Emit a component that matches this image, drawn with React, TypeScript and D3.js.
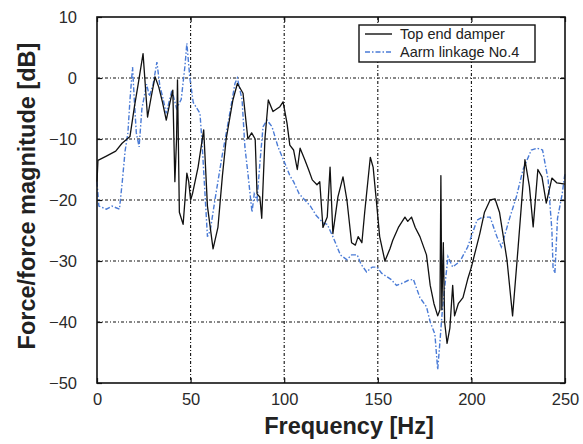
import React, { useEffect, useRef } from 'react';
import * as d3 from 'd3';

// [frequency Hz, dB]
const topEndDamper: [number, number][] = [
  [0, -17], [0.5, -13.5], [5, -12.8], [10, -12], [13.4, -10.7], [17.6, -9.6], [20, -4.7], [22, -1],
  [24.6, 4], [27, -6.4], [29, -3], [31, 0.2], [33, -1.5], [35, -4], [37, -6.9], [39, -4], [40.5, -2],
  [41.6, -17], [42.5, -10], [43, -0.3], [44, -22], [46, -24], [47, -20], [48, -15.6], [49, -17],
  [50, -20], [51, -19], [54, -14.6], [57, -8.5], [59, -21], [62, -28], [64.6, -24.5], [67, -16],
  [69, -10], [72.6, -3.6], [75, -0.9], [78, -2.5], [80.6, -10], [82.6, -9], [84.5, -10], [85.5, -19],
  [87, -19.5], [88, -23], [89.7, -10], [91.5, -3.6], [94, -5.5], [97.7, -4.7], [99.4, -3.9],
  [101.5, -7.4], [103, -11], [105, -11.8], [107, -15], [108.5, -11.5], [111, -13.4], [113, -15],
  [115, -16.7], [117.5, -17.5], [119, -17], [120.7, -24.5], [123, -22.8], [124.5, -14.6], [126, -25.5],
  [128.7, -19.5], [131.4, -16.2], [133.5, -20], [136, -27], [138, -27.4], [139.5, -26], [141.5, -27],
  [143, -22], [146, -13], [147.5, -14.6], [149.5, -21], [151, -26], [153.8, -30], [156.5, -28],
  [158, -26.6], [161, -24.5], [164.5, -22.8], [166, -23.5], [168, -22.8], [170, -24.5], [172.5, -26],
  [176, -29], [178, -34], [180, -37], [182, -39], [183.2, -38], [183.7, -16], [184.2, -38], [185, -27],
  [185.7, -40], [187, -43.5], [188.5, -41], [190, -34], [191, -39], [193, -37], [195.5, -36], [198, -33],
  [200, -31], [204.5, -25.5], [207, -22], [210, -20], [212.6, -19.8], [215, -22], [219, -29.8],
  [222, -39], [225, -27.6], [228.6, -13.4], [231, -17.8], [233, -24.4], [235.5, -15], [237.7, -16.2],
  [240, -20.5], [243, -16.4], [245.7, -17.2], [250, -17.4],
];

const aarmLinkage: [number, number][] = [
  [0, -17], [1, -21], [5, -21.5], [8, -21], [12, -21.5], [13.5, -17], [15, -12], [16.5, -9],
  [17.6, -3.6], [19, 1.8], [20, -4], [21, -9], [22.5, -11.3], [24, -5], [26.5, -1], [28, -3], [30, -1],
  [32, 2.6], [33.6, -1.4], [35, -3], [37, -5.8], [40, -2], [42.5, -5], [45, -3.5], [47, 2], [48, 5.7],
  [49.6, 0], [51.4, -4], [55, -5.8], [56, -10], [57.5, -18], [59, -26], [60.5, -25], [63, -20],
  [66.7, -13], [70, -7.4], [73.7, -0.9], [75, 0], [77.5, -3.6], [79, -11.3], [80.6, -15.6], [82.8, -22],
  [84, -19], [85.5, -20], [87, -14], [88.7, -8], [90.8, -6.9], [93.5, -8], [96.7, -11.3], [100.4, -14],
  [103, -16], [105, -17], [108, -19], [111, -20], [114, -21], [117, -22.5], [121, -23.8], [123, -24],
  [126, -26], [128, -27.5], [130, -29], [133.5, -29.8], [136, -29], [139, -29], [141, -30.5],
  [144, -31.8], [147, -31], [149.6, -31], [152, -32], [155, -32.6], [157, -33], [160, -34],
  [163.5, -33.6], [166, -33.2], [169, -33], [172.5, -36], [176, -37.5], [178, -40], [180.5, -42],
  [182, -47.8], [183, -44], [184.5, -38], [186, -33.6], [187.5, -29.3], [190, -31], [194, -30],
  [198, -27.7], [203, -23.3], [206, -22.8], [210, -22.8], [213.6, -26], [216, -27.7], [220.6, -22.8],
  [224, -19.5], [227.6, -15], [232, -11.8], [235, -11.5], [238, -11.8], [241, -16.7], [243, -25],
  [243.6, -31], [244.6, -32], [246, -23], [248.5, -19], [250, -15.6],
];

const xTicks = [0, 50, 100, 150, 200, 250];
const yTicks = [10, 0, -10, -20, -30, -40, -50];
const seriesNames = ['Top end damper', 'Aarm linkage No.4'];

const BLUE = '#4a7bd6';
const FONT = 'Liberation Sans, Arial, Helvetica, sans-serif';

const App = () => {
  const svgRef = useRef<SVGSVGElement>(null);
  const width = 583;
  const height = 444;

  useEffect(() => {
    const svg = d3.select(svgRef.current);
    svg.selectAll('*').remove();

    const margin = { top: 17, right: 18, bottom: 61, left: 97 };
    const innerWidth = width - margin.left - margin.right;
    const innerHeight = height - margin.top - margin.bottom;

    svg.append('rect').attr('width', width).attr('height', height).attr('fill', '#fff');

    const g = svg.append('g').attr('transform', `translate(${margin.left},${margin.top})`);

    const x = d3.scaleLinear().domain([0, 250]).range([0, innerWidth]);
    const y = d3.scaleLinear().domain([-50, 10]).range([innerHeight, 0]);

    // grid
    g.selectAll('.vgrid')
      .data(xTicks.slice(1, -1))
      .enter()
      .append('line')
      .attr('x1', d => x(d)).attr('x2', d => x(d))
      .attr('y1', 0).attr('y2', innerHeight)
      .attr('stroke', '#111').attr('stroke-width', 1.1)
      .attr('stroke-dasharray', '3,2,1,2');
    g.selectAll('.hgrid')
      .data(yTicks.slice(1, -1))
      .enter()
      .append('line')
      .attr('x1', 0).attr('x2', innerWidth)
      .attr('y1', d => y(d)).attr('y2', d => y(d))
      .attr('stroke', '#111').attr('stroke-width', 1.1)
      .attr('stroke-dasharray', '3,2,1,2');

    const line = d3.line<[number, number]>()
      .x(d => x(d[0]))
      .y(d => y(d[1]));

    g.append('path')
      .datum(aarmLinkage)
      .attr('d', line)
      .attr('fill', 'none')
      .attr('stroke', BLUE)
      .attr('stroke-width', 1.4)
      .attr('stroke-dasharray', '5,2,1.5,2');

    g.append('path')
      .datum(topEndDamper)
      .attr('d', line)
      .attr('fill', 'none')
      .attr('stroke', '#111')
      .attr('stroke-width', 1.3)
      .attr('stroke-linejoin', 'round');

    // frame + inward ticks
    g.append('rect')
      .attr('width', innerWidth).attr('height', innerHeight)
      .attr('fill', 'none').attr('stroke', '#111').attr('stroke-width', 1.6);

    const xAxis = g.append('g')
      .attr('transform', `translate(0,${innerHeight})`)
      .call(d3.axisBottom(x).tickValues(xTicks).tickSizeInner(-5).tickSizeOuter(0).tickPadding(10));
    const xAxisTop = g.append('g')
      .call(d3.axisTop(x).tickValues(xTicks).tickSizeInner(-5).tickSizeOuter(0).tickFormat(() => ''));
    const yAxis = g.append('g')
      .call(d3.axisLeft(y).tickValues(yTicks).tickSizeInner(-5).tickSizeOuter(0).tickPadding(20)
        .tickFormat(d => d3.format('')(d as number).replace('-', '\u2212')));
    const yAxisRight = g.append('g')
      .attr('transform', `translate(${innerWidth},0)`)
      .call(d3.axisRight(y).tickValues(yTicks).tickSizeInner(-5).tickSizeOuter(0).tickFormat(() => ''));

    [xAxis, xAxisTop, yAxis, yAxisRight].forEach(a => {
      a.select('.domain').remove();
      a.selectAll('line').attr('stroke', '#111').attr('stroke-width', 1.2);
      a.selectAll('text')
        .style('font-family', FONT)
        .style('font-size', '16.5px')
        .attr('fill', '#2a2a2a');
    });

    // axis labels
    svg.append('text')
      .attr('x', 349)
      .attr('y', 434)
      .attr('text-anchor', 'middle')
      .style('font-family', FONT)
      .style('font-size', '23.5px')
      .style('font-weight', 'bold')
      .attr('fill', '#222')
      .text('Frequency [Hz]');

    svg.append('text')
      .attr('transform', 'translate(35,196) rotate(-90)')
      .attr('text-anchor', 'middle')
      .style('font-family', FONT)
      .style('font-size', '23.5px')
      .style('font-weight', 'bold')
      .attr('fill', '#222')
      .text('Force/force magnitude [dB]');

    // legend
    const legend = svg.append('g').attr('transform', 'translate(359,25)');
    legend.append('rect')
      .attr('width', 176).attr('height', 37)
      .attr('fill', '#fff').attr('stroke', '#111').attr('stroke-width', 1.4);

    seriesNames.forEach((name, i) => {
      const row = legend.append('g').attr('transform', `translate(0, ${9 + i * 18})`);
      row.append('line')
        .attr('x1', 6).attr('x2', 33).attr('y1', 0).attr('y2', 0)
        .attr('stroke', i === 0 ? '#111' : BLUE)
        .attr('stroke-width', 1.4)
        .attr('stroke-dasharray', i === 0 ? null : '5,2,1.5,2');
      row.append('text')
        .attr('x', 41).attr('y', 0).attr('dy', '0.35em')
        .style('font-family', FONT)
        .style('font-size', '14.5px')
        .attr('fill', '#222')
        .text(name);
    });
  }, []);

  return (
    <svg
      ref={svgRef}
      width={width}
      height={height}
      style={{ position: 'absolute', left: 0, top: 0, display: 'block' }}
    />
  );
};

export default App;
